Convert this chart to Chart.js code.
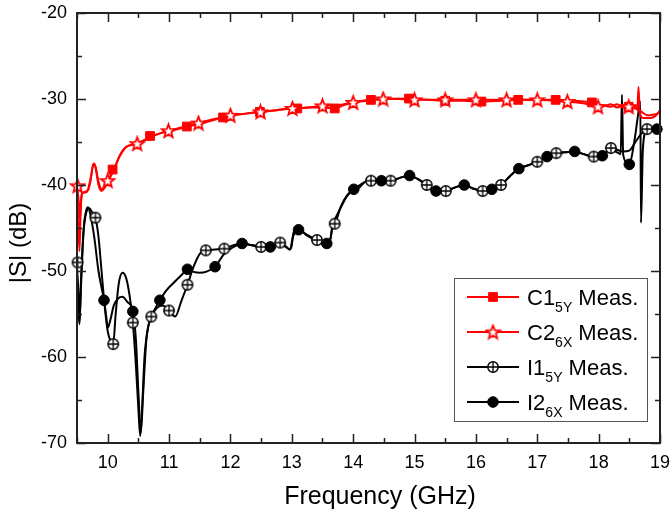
<!DOCTYPE html>
<html>
<head>
<meta charset="utf-8">
<script src="https://cdn.jsdelivr.net/npm/chart.js@4"></script>
<style>
html,body{margin:0;padding:0;background:#fff;}
canvas{display:block;}
</style>
</head>
<body>
<canvas id="c" width="671" height="514"></canvas>
<script>
// ---------------- data ----------------
const xMajorTicks = [10, 11, 12, 13, 14, 15, 16, 17, 18, 19];
const xMinorTicks = [9.5, 10.5, 11.5, 12.5, 13.5, 14.5, 15.5, 16.5, 17.5, 18.5];
const yMajorTicks = [-70, -60, -50, -40, -30, -20];
const yMinorTicks = [-65, -55, -45, -35, -25];

const xTitle = "Frequency (GHz)";
const yTitle = "|S| (dB)";
const legendMain = ["C1", "C2", "I1", "I2"];
const legendSub = ["5Y", "6X", "5Y", "6X"];
const legendTail = [" Meas.", " Meas.", " Meas.", " Meas."];

// C1 (5Y) line
const c1Freq = [9.50, 9.52, 9.54, 9.56, 9.58, 9.62, 9.68, 9.72, 9.76, 9.78, 9.81, 9.85, 9.90, 9.95, 10.00, 10.05, 10.11, 10.20, 10.29, 10.40, 10.49, 10.60, 10.71, 10.85, 11.00, 11.15, 11.30, 11.50, 11.70, 11.88, 12.00, 12.25, 12.49, 12.75, 13.00, 13.09, 13.30, 13.50, 13.70, 13.85, 14.00, 14.29, 14.50, 14.91, 15.20, 15.50, 15.80, 16.09, 16.40, 16.69, 17.00, 17.30, 17.60, 17.89, 18.05, 18.20, 18.30, 18.40, 18.50, 18.60, 18.63, 18.65, 18.67, 18.72, 18.85, 18.95, 19.00];
const c1Val  = [-40.5, -44.0, -47.7, -43.0, -41.0, -40.8, -40.6, -39.5, -37.7, -37.5, -38.3, -40.0, -40.7, -40.3, -39.6, -39.0, -38.1, -36.5, -35.6, -35.3, -35.1, -34.8, -34.4, -34.0, -33.7, -33.5, -33.2, -32.9, -32.5, -32.1, -31.9, -31.7, -31.5, -31.3, -31.1, -31.1, -31.0, -31.0, -31.1, -30.7, -30.4, -30.1, -30.0, -29.95, -30.1, -30.2, -30.2, -30.3, -30.2, -30.1, -30.1, -30.1, -30.2, -30.4, -30.7, -30.9, -30.6, -31.0, -30.9, -30.8, -31.2, -28.6, -31.6, -32.2, -32.2, -31.8, -31.3];
const c1MarkFreq = [10.08, 10.69, 11.29, 11.88, 12.48, 13.09, 13.70, 14.29, 14.91, 15.50, 16.09, 16.69, 17.30, 17.89, 18.49];
const c1MarkVal  = [-38.2, -34.3, -33.2, -32.15, -31.5, -31.1, -31.1, -30.1, -29.95, -30.2, -30.3, -30.1, -30.1, -30.4, -30.9];

// C2 (6X) line
const c2Freq = [9.50, 9.53, 9.55, 9.57, 9.60, 9.66, 9.72, 9.77, 9.80, 9.85, 9.90, 9.95, 10.00, 10.10, 10.20, 10.30, 10.48, 10.70, 10.99, 11.20, 11.48, 11.75, 12.00, 12.25, 12.49, 12.75, 13.01, 13.25, 13.50, 13.75, 14.00, 14.25, 14.49, 14.75, 15.00, 15.25, 15.50, 16.00, 16.50, 17.00, 17.25, 17.49, 17.75, 17.99, 18.10, 18.20, 18.30, 18.40, 18.49, 18.60, 18.70, 18.80, 18.90, 19.00];
const c2Val  = [-40.1, -42.0, -44.0, -41.5, -40.9, -40.8, -39.3, -37.6, -37.8, -39.6, -40.5, -40.3, -39.5, -38.2, -36.6, -35.6, -35.2, -34.4, -33.7, -33.3, -32.8, -32.3, -31.9, -31.7, -31.5, -31.3, -31.1, -31.0, -30.8, -30.7, -30.4, -30.2, -30.0, -30.0, -30.1, -30.1, -30.1, -30.1, -30.1, -30.1, -30.2, -30.3, -30.5, -30.9, -30.8, -30.6, -31.0, -30.7, -30.9, -31.1, -31.5, -31.9, -31.8, -31.6];
const c2MarkFreq = [9.51, 10.00, 10.48, 10.99, 11.48, 12.00, 12.49, 13.01, 13.50, 14.00, 14.49, 15.00, 15.50, 16.00, 16.50, 17.00, 17.49, 17.99, 18.49];
const c2MarkVal  = [-40.1, -39.5, -35.2, -33.7, -32.8, -31.9, -31.5, -31.1, -30.8, -30.4, -30.0, -30.1, -30.1, -30.1, -30.1, -30.1, -30.3, -30.9, -30.9];

// I1 (5Y) line
const i1Freq = [9.50, 9.52, 9.54, 9.56, 9.60, 9.65, 9.70, 9.75, 9.80, 9.85, 9.90, 9.95, 10.00, 10.05, 10.09, 10.13, 10.18, 10.24, 10.30, 10.36, 10.41, 10.46, 10.50, 10.53, 10.56, 10.60, 10.66, 10.71, 10.80, 10.90, 11.00, 11.10, 11.20, 11.30, 11.40, 11.50, 11.60, 11.75, 11.90, 12.05, 12.19, 12.35, 12.50, 12.65, 12.81, 12.90, 12.97, 13.00, 13.03, 13.11, 13.25, 13.41, 13.50, 13.57, 13.63, 13.66, 13.70, 13.80, 13.90, 14.01, 14.11, 14.20, 14.29, 14.46, 14.61, 14.75, 14.92, 15.05, 15.20, 15.35, 15.51, 15.65, 15.81, 15.95, 16.11, 16.26, 16.41, 16.55, 16.70, 16.85, 17.00, 17.16, 17.31, 17.45, 17.61, 17.75, 17.92, 18.06, 18.20, 18.30, 18.40, 18.50, 18.60, 18.70, 18.79, 18.90, 19.00];
const i1Val  = [-49.5, -52.0, -56.2, -52.0, -46.0, -43.2, -42.7, -43.2, -43.8, -46.0, -50.0, -54.0, -57.0, -58.2, -58.5, -55.0, -51.5, -50.2, -50.8, -53.0, -56.0, -61.0, -66.0, -69.2, -66.0, -60.0, -56.5, -55.3, -54.3, -54.0, -54.6, -55.3, -53.5, -51.6, -49.5, -48.0, -47.6, -47.5, -47.4, -47.0, -46.8, -47.0, -47.2, -47.2, -46.7, -47.1, -47.5, -47.0, -45.5, -45.2, -45.8, -46.4, -46.6, -46.8, -46.3, -44.8, -44.5, -42.5, -41.2, -40.5, -40.0, -39.6, -39.5, -39.5, -39.5, -39.2, -38.9, -39.3, -40.0, -40.7, -40.7, -40.3, -40.0, -40.4, -40.7, -40.5, -40.0, -39.0, -38.1, -37.7, -37.3, -36.7, -36.3, -36.2, -36.1, -36.4, -36.7, -36.6, -35.7, -35.9, -36.1, -36.0, -35.0, -34.0, -33.5, -33.5, -33.4];
const i1MarkFreq = [9.51, 9.80, 10.09, 10.41, 10.71, 11.00, 11.30, 11.60, 11.90, 12.50, 12.81, 13.41, 13.70, 14.29, 14.61, 15.20, 15.51, 16.11, 16.41, 17.00, 17.31, 17.92, 18.20, 18.79];
const i1MarkVal  = [-49.0, -43.8, -58.5, -56.0, -55.3, -54.6, -51.6, -47.6, -47.4, -47.2, -46.7, -46.4, -44.5, -39.5, -39.5, -40.0, -40.7, -40.7, -40.0, -37.3, -36.3, -36.7, -35.7, -33.5];

// I2 (6X) line
const i2Freq = [9.50, 9.52, 9.54, 9.57, 9.61, 9.65, 9.68, 9.72, 9.78, 9.85, 9.94, 9.98, 10.00, 10.04, 10.10, 10.17, 10.24, 10.32, 10.41, 10.46, 10.50, 10.54, 10.58, 10.63, 10.70, 10.78, 10.85, 10.95, 11.10, 11.20, 11.30, 11.40, 11.50, 11.60, 11.75, 11.90, 12.05, 12.19, 12.35, 12.50, 12.65, 12.81, 12.90, 12.97, 13.02, 13.11, 13.25, 13.41, 13.57, 13.63, 13.67, 13.80, 13.90, 14.01, 14.10, 14.20, 14.29, 14.46, 14.61, 14.75, 14.92, 15.05, 15.20, 15.35, 15.51, 15.65, 15.81, 15.95, 16.11, 16.26, 16.41, 16.55, 16.70, 16.85, 17.00, 17.16, 17.31, 17.45, 17.61, 17.75, 17.92, 18.06, 18.20, 18.30, 18.36, 18.38, 18.40, 18.50, 18.58, 18.64, 18.68, 18.69, 18.72, 18.77, 18.85, 18.95, 19.00];
const i2Val  = [-52.0, -54.0, -56.0, -51.0, -45.0, -43.0, -42.6, -43.5, -46.0, -50.0, -53.4, -55.5, -56.6, -55.8, -54.0, -53.2, -53.0, -53.6, -54.7, -58.0, -64.0, -68.8, -64.0, -58.0, -55.5, -54.3, -53.4, -52.3, -51.2, -50.5, -49.8, -50.1, -50.2, -50.1, -49.5, -48.0, -47.2, -46.8, -47.0, -47.1, -47.2, -46.8, -47.2, -47.5, -46.0, -45.2, -45.9, -46.5, -46.8, -46.2, -44.7, -42.6, -41.3, -40.5, -40.3, -39.6, -39.5, -39.5, -39.5, -39.2, -38.9, -39.3, -40.0, -40.7, -40.7, -40.3, -40.0, -40.4, -40.7, -40.5, -40.0, -39.0, -38.1, -37.7, -37.3, -36.7, -36.3, -36.2, -36.1, -36.4, -36.7, -36.6, -35.8, -36.2, -36.4, -29.5, -36.5, -37.6, -35.0, -32.0, -30.3, -44.4, -36.0, -33.8, -33.6, -33.5, -33.4];
const i2MarkFreq = [9.94, 10.41, 10.85, 11.30, 11.75, 12.19, 12.65, 13.11, 13.57, 14.01, 14.46, 14.92, 15.35, 15.81, 16.26, 16.70, 17.16, 17.61, 18.06, 18.50, 18.95];
const i2MarkVal  = [-53.4, -54.7, -53.4, -49.8, -49.5, -46.8, -47.2, -45.2, -46.8, -40.5, -39.5, -38.9, -40.7, -40.0, -40.5, -38.1, -36.7, -36.1, -36.6, -37.6, -33.5];

// ---------------- marker images ----------------
function makeStar(){
  const cv = document.createElement('canvas'); cv.width = 17; cv.height = 17;
  const g = cv.getContext('2d');
  const cx = 8.5, cy = 9, R = 7, r = 3;
  g.beginPath();
  for (let k = 0; k < 10; k++) {
    const ang = -Math.PI/2 + k*Math.PI/5;
    const rad = k % 2 === 0 ? R : r;
    const px = cx + rad*Math.cos(ang), py = cy + rad*Math.sin(ang);
    if (k === 0) g.moveTo(px, py); else g.lineTo(px, py);
  }
  g.closePath();
  g.fillStyle = '#fff'; g.fill();
  g.strokeStyle = '#ff0000'; g.lineWidth = 1.8; g.lineJoin = 'miter'; g.stroke();
  return cv;
}
function makeCrossCircle(){
  const cv = document.createElement('canvas'); cv.width = 14; cv.height = 14;
  const g = cv.getContext('2d');
  g.beginPath(); g.arc(7, 7, 5.2, 0, Math.PI*2);
  g.fillStyle = '#fff'; g.fill();
  g.strokeStyle = '#000'; g.lineWidth = 1.5; g.stroke();
  g.beginPath(); g.moveTo(7, 1.8); g.lineTo(7, 12.2); g.moveTo(1.8, 7); g.lineTo(12.2, 7);
  g.lineWidth = 1.3; g.stroke();
  return cv;
}
const starImg = makeStar();
const crossImg = makeCrossCircle();

const toXY = (fs, vs) => fs.map((f, i) => ({x: f, y: vs[i]}));

const lineDs = (fs, vs, color) => ({
  data: toXY(fs, vs), borderColor: color, borderWidth: 2, pointRadius: 0,
  cubicInterpolationMode: 'monotone', fill: false
});
const markDs = (fs, vs, style, color, fillc, radius) => ({
  data: toXY(fs, vs), showLine: false, pointStyle: style, pointRadius: radius,
  borderColor: color, backgroundColor: fillc, pointBorderWidth: 1, clip: false
});

const legendStyles = [
  {color: '#ff0000', style: 'rect', radius: 6.2, fill: '#ff0000'},
  {color: '#ff0000', style: starImg, radius: 7, fill: '#fff'},
  {color: '#000000', style: crossImg, radius: 6, fill: '#fff'},
  {color: '#000000', style: 'circle', radius: 5.3, fill: '#000'}
];

const decor = {
  id: 'decor',
  afterDraw(chart) {
    const ctx = chart.ctx;
    const xs = chart.scales.x, ys = chart.scales.y;
    const L = chart.chartArea.left, R = chart.chartArea.right, T = chart.chartArea.top, B = chart.chartArea.bottom;
    ctx.save();
    ctx.strokeStyle = '#222';
    // ticks
    ctx.lineWidth = 1.5;
    const tick = (v, len, horiz) => {
      ctx.beginPath();
      if (horiz) {
        const p = Math.round(xs.getPixelForValue(v)) + 0.5;
        ctx.moveTo(p, B); ctx.lineTo(p, B - len);
        ctx.moveTo(p, T); ctx.lineTo(p, T + len);
      } else {
        const p = Math.round(ys.getPixelForValue(v)) + 0.5;
        ctx.moveTo(L, p); ctx.lineTo(L + len, p);
        ctx.moveTo(R, p); ctx.lineTo(R - len, p);
      }
      ctx.stroke();
    };
    xMajorTicks.forEach(v => tick(v, 9, true));
    xMinorTicks.forEach(v => tick(v, 5, true));
    yMajorTicks.forEach(v => tick(v, 9, false));
    yMinorTicks.forEach(v => tick(v, 5, false));
    // frame
    ctx.lineWidth = 2;
    ctx.strokeRect(L, T, R - L, B - T);

    // axis titles
    ctx.fillStyle = '#000';
    ctx.font = '25px "Liberation Sans", Arial, sans-serif';
    ctx.textAlign = 'center'; ctx.textBaseline = 'middle';
    ctx.fillText(xTitle, 380, 497);
    ctx.save();
    ctx.translate(19, 243);
    ctx.rotate(-Math.PI/2);
    ctx.font = '24px "Liberation Sans", Arial, sans-serif';
    ctx.fillText(yTitle, 0, 0);
    ctx.restore();

    // legend
    const bx = 454, by = 278, bw = 193, bh = 143;
    ctx.fillStyle = '#fff';
    ctx.fillRect(bx, by, bw, bh);
    ctx.strokeStyle = '#555'; ctx.lineWidth = 1;
    ctx.strokeRect(bx + 0.5, by + 0.5, bw, bh);
    const rows = [297, 332, 367, 402];
    legendMain.forEach((m, i) => {
      const y = rows[i];
      const st = legendStyles[i];
      ctx.strokeStyle = st.color; ctx.lineWidth = 2;
      ctx.beginPath(); ctx.moveTo(467, y); ctx.lineTo(519, y); ctx.stroke();
      ctx.fillStyle = st.fill; ctx.strokeStyle = st.color; ctx.lineWidth = 1;
      Chart.helpers.drawPoint(ctx, {pointStyle: st.style, radius: st.radius, borderWidth: 1, rotation: 0}, 493, y);
      ctx.fillStyle = '#000';
      ctx.textAlign = 'left'; ctx.textBaseline = 'alphabetic';
      ctx.font = '22px "Liberation Sans", Arial, sans-serif';
      let x = 527;
      const base = y + 8;
      ctx.fillText(m, x, base); x += ctx.measureText(m).width;
      ctx.font = '14px "Liberation Sans", Arial, sans-serif';
      ctx.fillText(legendSub[i], x, base + 7); x += ctx.measureText(legendSub[i]).width;
      ctx.font = '22px "Liberation Sans", Arial, sans-serif';
      ctx.fillText(legendTail[i], x, base);
    });
    ctx.restore();
  }
};

new Chart(document.getElementById('c'), {
  type: 'line',
  data: {
    datasets: [
      markDs(c2MarkFreq, c2MarkVal, starImg, '#ff0000', '#fff', 7),
      markDs(c1MarkFreq, c1MarkVal, 'rect', '#ff0000', '#ff0000', 6.2),
      markDs(i2MarkFreq, i2MarkVal, 'circle', '#000', '#000', 5.3),
      markDs(i1MarkFreq, i1MarkVal, crossImg, '#000', '#fff', 6),
      lineDs(c2Freq, c2Val, '#ff0000'),
      lineDs(c1Freq, c1Val, '#ff0000'),
      lineDs(i2Freq, i2Val, '#000000'),
      lineDs(i1Freq, i1Val, '#000000')
    ]
  },
  options: {
    responsive: false,
    animation: false,
    events: [],
    layout: {autoPadding: false, padding: {left: 0, right: 11, top: 13, bottom: 0}},
    plugins: {legend: {display: false}, tooltip: {enabled: false}, title: {display: false}},
    scales: {
      x: {
        type: 'linear', min: 9.5, max: 19,
        grid: {display: false, drawTicks: true, tickLength: 9},
        border: {display: false},
        afterBuildTicks: s => { s.ticks = xMajorTicks.map(v => ({value: v})); },
        afterFit: s => { s.height = 71; },
        ticks: {
          color: '#000', padding: 0, maxRotation: 0, autoSkip: false,
          font: {family: '"Liberation Sans", Arial, sans-serif', size: 18},
          callback: v => String(v)
        }
      },
      y: {
        type: 'linear', min: -70, max: -20,
        grid: {display: false, drawTicks: true, tickLength: 10},
        border: {display: false},
        afterBuildTicks: s => { s.ticks = yMajorTicks.map(v => ({value: v})); },
        afterFit: s => { s.width = 77; },
        ticks: {
          color: '#000', padding: 0, autoSkip: false,
          font: {family: '"Liberation Sans", Arial, sans-serif', size: 18},
          callback: v => String(v)
        }
      }
    }
  },
  plugins: [decor]
});
</script>
</body>
</html>
